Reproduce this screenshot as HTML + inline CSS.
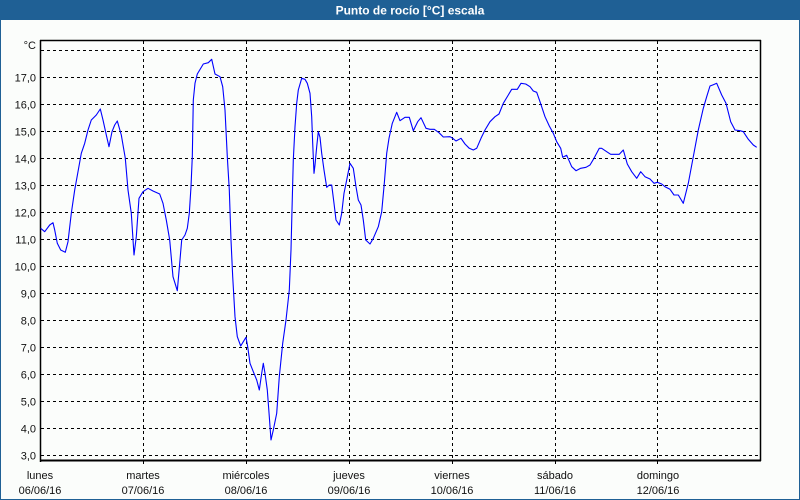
<!DOCTYPE html>
<html>
<head>
<meta charset="utf-8">
<style>
html,body{margin:0;padding:0;background:#fbfdfb;}
svg{display:block;}
text{font-family:"Liberation Sans",Arial,sans-serif;}
</style>
</head>
<body>
<svg width="800" height="500" viewBox="0 0 800 500" xmlns="http://www.w3.org/2000/svg">
  <rect x="0" y="0" width="800" height="500" fill="#fbfdfb"/>
  <!-- outer frame -->
  <rect x="0" y="0" width="800" height="20" fill="#1f6095"/>
  <rect x="0" y="0" width="1" height="500" fill="#1f6095"/>
  <rect x="799" y="0" width="1" height="500" fill="#1f6095"/>
  <rect x="0" y="499" width="800" height="1" fill="#1f6095"/>
  <text x="410" y="14.5" fill="#ffffff" font-size="12" font-weight="bold" text-anchor="middle">Punto de rocío [°C] escala</text>

  <!-- horizontal grid -->
  <g stroke="#000" stroke-width="1" stroke-dasharray="3,3" fill="none">
    <line x1="41" y1="50.5" x2="760" y2="50.5"/>
    <line x1="41" y1="77.5" x2="760" y2="77.5"/>
    <line x1="41" y1="104.5" x2="760" y2="104.5"/>
    <line x1="41" y1="131.5" x2="760" y2="131.5"/>
    <line x1="41" y1="158.5" x2="760" y2="158.5"/>
    <line x1="41" y1="185.5" x2="760" y2="185.5"/>
    <line x1="41" y1="212.5" x2="760" y2="212.5"/>
    <line x1="41" y1="239.5" x2="760" y2="239.5"/>
    <line x1="41" y1="266.5" x2="760" y2="266.5"/>
    <line x1="41" y1="293.5" x2="760" y2="293.5"/>
    <line x1="41" y1="320.5" x2="760" y2="320.5"/>
    <line x1="41" y1="347.5" x2="760" y2="347.5"/>
    <line x1="41" y1="374.5" x2="760" y2="374.5"/>
    <line x1="41" y1="401.5" x2="760" y2="401.5"/>
    <line x1="41" y1="428.5" x2="760" y2="428.5"/>
    <line x1="41" y1="455.5" x2="760" y2="455.5"/>
  </g>
  <!-- vertical grid -->
  <g stroke="#000" stroke-width="1" stroke-dasharray="3,3" fill="none">
    <line x1="143.5" y1="41" x2="143.5" y2="465"/>
    <line x1="246.5" y1="41" x2="246.5" y2="465"/>
    <line x1="349.5" y1="41" x2="349.5" y2="465"/>
    <line x1="452.5" y1="41" x2="452.5" y2="465"/>
    <line x1="555.5" y1="41" x2="555.5" y2="465"/>
    <line x1="657.5" y1="41" x2="657.5" y2="465"/>
  </g>

  <!-- axes frame -->
  <g stroke="#000" fill="none">
    <line x1="40.5" y1="40" x2="40.5" y2="462" stroke-width="1.5"/>
    <line x1="40" y1="40.5" x2="761" y2="40.5" stroke-width="1.5"/>
    <line x1="760.5" y1="40" x2="760.5" y2="461" stroke-width="1.5"/>
    <line x1="40" y1="460.5" x2="761" y2="460.5" stroke-width="2"/>
  </g>

  <!-- y labels -->
  <g font-size="11" fill="#111" text-anchor="end">
    <text x="36" y="49">°C</text>
    <text x="36" y="81.5">17,0</text>
    <text x="36" y="108.5">16,0</text>
    <text x="36" y="135.5">15,0</text>
    <text x="36" y="162.5">14,0</text>
    <text x="36" y="189.5">13,0</text>
    <text x="36" y="216.5">12,0</text>
    <text x="36" y="243.5">11,0</text>
    <text x="36" y="270.5">10,0</text>
    <text x="36" y="297.5">9,0</text>
    <text x="36" y="324.5">8,0</text>
    <text x="36" y="351.5">7,0</text>
    <text x="36" y="378.5">6,0</text>
    <text x="36" y="405.5">5,0</text>
    <text x="36" y="432.5">4,0</text>
    <text x="36" y="459.5">3,0</text>
  </g>

  <!-- x labels -->
  <g font-size="11" fill="#111" text-anchor="middle">
    <text x="40" y="479">lunes</text>
    <text x="40" y="494">06/06/16</text>
    <text x="143" y="479">martes</text>
    <text x="143" y="494">07/06/16</text>
    <text x="246" y="479">miércoles</text>
    <text x="246" y="494">08/06/16</text>
    <text x="349" y="479">jueves</text>
    <text x="349" y="494">09/06/16</text>
    <text x="452" y="479">viernes</text>
    <text x="452" y="494">10/06/16</text>
    <text x="555" y="479">sábado</text>
    <text x="555" y="494">11/06/16</text>
    <text x="658" y="479">domingo</text>
    <text x="658" y="494">12/06/16</text>
  </g>

  <!-- data series -->
  <polyline fill="none" stroke="#0000ff" stroke-width="1.1" stroke-linejoin="round"
    points="40.7,228.3 44.7,231.7 49.7,225 53,222.7 54.7,230 57.3,243.3 60.7,250 65.3,252.3 68,241.7 71.3,213.3 74.7,190 78,171.7 81.3,153.3 84.7,143.3 88,130 91.3,120 96.3,115 100.3,109 103,120 106.3,135 109,146.7 112,131.7 114.7,125 117.3,121 121.3,135 125.3,158.3 128,190 131.3,213.3 134,255 136.3,236.7 139,198.3 143,191.7 148,188.3 153,191 159.7,194 163,203.3 166.3,220 169.7,240 173,276.7 177.3,290.7 179.7,263.3 181.7,240 185,235 187.3,228.3 189.3,213.3 191,186.7 192.3,156.7 193.3,100 195,83.3 197.3,74 203.3,64 208.3,62.7 211.7,59.3 215,74 220,76.7 222.7,86.7 225,110 227.3,156.7 229.3,190 231,240 232.7,276.7 235,316.7 237.3,336.7 240.7,346 243.3,341.7 246,337.3 247.7,346.7 250,363.3 253.3,371.7 256.7,380 259.3,390 261.7,373.3 263.3,363.3 265,373.3 267.3,390 269.3,416.7 271,440 273.3,430 276.7,413.3 279.3,376.7 282.7,343.3 286,320 289.3,290 291,250 292,210 293.3,160 295,126.7 296.7,103.3 298.3,90 301.7,78.3 305,79.3 307.3,83.3 310,93.3 311.7,116.7 312.7,143.3 314,173.3 315,165 316.7,146.7 318.3,131.7 320,137.3 321.7,153.3 324,170 326.7,187.3 329.3,185 331.7,185 334,203.3 336,220 339.3,225 341.7,213.3 344,193.3 346.7,180 350,163.3 353.3,168.3 356,186.7 358.3,200 361,205 363.3,220 365.7,240 370,244 373.3,238.3 378.3,226.7 381.7,211.7 384.3,183.3 386.7,153.3 389,138.3 392.3,123.3 396.7,112.3 400,120.7 405,117.3 409.3,117.3 413.3,130.7 417.7,121.7 421,117.7 426,128.3 430,129.3 434.3,129.3 439,132.7 443.3,137 450,136.7 452.7,138.3 456,141 461,138.3 465,144 469.3,148.3 473.3,150 476.7,148.3 481,138.3 485,130 490,121.7 495,116.7 499,114 503.3,103.3 508.3,95 511.7,89.3 517.3,89.3 521,83.3 525.7,84 530,86.7 533.3,91 536.7,92.3 540,101.7 545,116.7 549.3,126 553.3,133.3 556.7,141.7 560.7,148.3 562.7,157.3 566.7,155.3 571.7,166.7 576,170.7 580.7,168.3 586,167.3 590,165 594,158.3 599.3,148.3 601.7,148.3 606.7,151.7 610.7,154.3 619.3,154.3 623.3,150 627.3,164 631.7,171.7 636.7,178.3 640.7,171.7 645,176.7 650,179 654,183.3 657.3,182.3 661.7,184 665,186.7 670,189.3 674,195 678.3,195 683.3,203.3 688.3,183.3 693.3,156.7 698.3,130 703.3,108.3 706.7,96.7 710,86 713.3,84.7 716.7,83.3 721.7,95 726,103.3 730.7,121.7 735,130 740,130.7 743.3,131.7 748.3,139.3 753.3,145 756.7,147.3"/>
</svg>
</body>
</html>
